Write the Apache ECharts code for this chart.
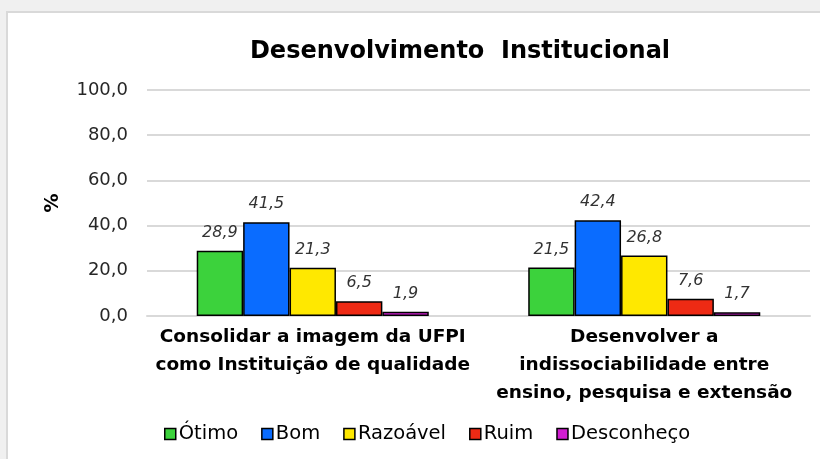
<!DOCTYPE html>
<html>
<head>
<meta charset="utf-8">
<script src="https://cdn.jsdelivr.net/npm/echarts@6/dist/echarts.min.js"></script>
<style>
html, body { margin: 0; padding: 0; background: #f0f0f0; }
#main { width: 820px; height: 459px; }
</style>
</head>
<body>
<div id="main"></div>
<script>
var categories = ['Consolidar a imagem da UFPI\ncomo Instituição de qualidade', 'Desenvolver a\nindissociabilidade entre\nensino, pesquisa e extensão'];
var seriesNames = ['Ótimo', 'Bom', 'Razoável', 'Ruim', 'Desconheço'];
var otimo = [28.9, 21.5];
var bom = [41.5, 42.4];
var razoavel = [21.3, 26.8];
var ruim = [6.5, 7.6];
var desconheco = [1.9, 1.7];
var colors = ['#3CD23C', '#0A6CFF', '#FFE800', '#EE2A14', '#D21ED2'];

var font = 'DejaVu Sans';
function fmt(v) { return v.toFixed(1).replace('.', ','); }

var seriesData = [otimo, bom, razoavel, ruim, desconheco];
var series = seriesData.map(function (d, i) {
	return {
		name: seriesNames[i],
		type: 'bar',
		data: d,
		barGap: '0%',
		barCategoryGap: '30%',
		itemStyle: { color: colors[i], borderColor: '#000', borderWidth: 1.5 },
		label: {
			show: true,
			position: 'top',
			distance: 10,
			fontFamily: font,
			fontStyle: 'italic',
			fontSize: 16,
			color: '#333',
			formatter: function (p) { return fmt(p.value); }
		}
	};
});

var myChart = echarts.init(document.getElementById('main'));
var option = {
	backgroundColor: '#f0f0f0',
	animation: false,
	graphic: [{
		type: 'rect',
		z: -10,
		shape: { x: 7, y: 12, width: 830, height: 460 },
		style: { fill: '#fff', stroke: '#d9d9d9', lineWidth: 2 }
	}],
	title: {
		text: 'Desenvolvimento  Institucional',
		left: 455,
		textAlign: 'center',
		top: 35,
		textStyle: { fontFamily: font, fontWeight: 'bold', fontSize: 24, color: '#000' }
	},
	legend: {
		data: seriesNames,
		left: 159,
		bottom: 10,
		icon: 'rect',
		itemWidth: 11,
		itemHeight: 11,
		itemGap: 23,
		itemStyle: { borderColor: '#000', borderWidth: 1.5 },
		textStyle: { fontFamily: font, fontSize: 19.5, color: '#000', padding: [0, 0, 0, -2] }
	},
	grid: { left: 147, right: 10, top: 90, bottom: 143 },
	xAxis: {
		type: 'category',
		data: categories,
		axisTick: { show: false },
		axisLine: { lineStyle: { color: '#d9d9d9', width: 2 } },
		axisLabel: {
			interval: 0,
			margin: 7,
			fontFamily: font,
			fontWeight: 'bold',
			fontSize: 18.5,
			lineHeight: 28,
			color: '#000'
		}
	},
	yAxis: {
		type: 'value',
		min: 0,
		max: 100,
		interval: 20,
		name: '%',
		nameLocation: 'middle',
		nameRotate: 90,
		nameGap: 84,
		nameTextStyle: { fontFamily: font, fontWeight: 'bold', fontSize: 19, color: '#000' },
		axisLine: { show: false },
		axisTick: { show: false },
		splitLine: { lineStyle: { color: '#d9d9d9', width: 2 } },
		axisLabel: {
			margin: 19,
			fontFamily: font,
			fontSize: 18,
			color: '#262626',
			formatter: function (v) { return fmt(v); }
		}
	},
	series: series
};
myChart.setOption(option);
</script>
</body>
</html>
